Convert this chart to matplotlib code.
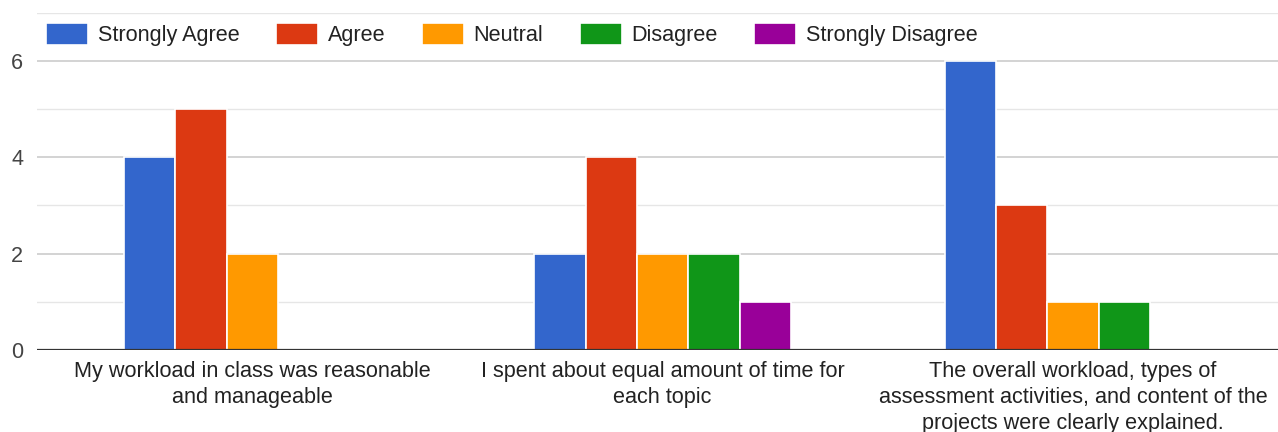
import numpy as np
import matplotlib
matplotlib.use("Agg")
import matplotlib.pyplot as plt
from matplotlib.ticker import MultipleLocator

questions = [
    "My workload in class was reasonable\nand manageable",
    "I spent about equal amount of time for\neach topic",
    "The overall workload, types of\nassessment activities, and content of the\nprojects were clearly explained.",
]
responses = ["Strongly Agree", "Agree", "Neutral", "Disagree", "Strongly Disagree"]
strongly_agree = [4, 2, 6]
agree = [5, 4, 3]
neutral = [2, 2, 1]
disagree = [0, 2, 1]
strongly_disagree = [0, 1, 0]
colors = ["#3366cc", "#dc3912", "#ff9900", "#109618", "#990099"]

plt.rcParams['font.family'] = ['Liberation Sans', 'DejaVu Sans']

fig = plt.figure(figsize=(12.78, 4.32), dpi=100)
ax = fig.add_axes([37 / 1278, 82 / 432, 1 - 37 / 1278, (350 - 12.8) / 432])

series = [strongly_agree, agree, neutral, disagree, strongly_disagree]
x = np.arange(len(questions))
w = 0.125
for i, (vals, c, name) in enumerate(zip(series, colors, responses)):
    ax.bar(x + (i - 2) * w, vals, width=w, color=c, edgecolor="white",
           linewidth=1.2, label=name, zorder=2)

ax.set_xlim(-0.525, 2.5)
ax.set_ylim(0, 7)
ax.yaxis.set_major_locator(MultipleLocator(2))
ax.yaxis.set_minor_locator(MultipleLocator(1))
ax.grid(axis="y", which="major", color="#cccccc", linewidth=1.2, zorder=0)
ax.grid(axis="y", which="minor", color="#e6e6e6", linewidth=1.0, zorder=0)
ax.axhline(0, color="#333333", linewidth=1.6, zorder=3)
for s in ax.spines.values():
    s.set_visible(False)

ax.set_xticks(x)
ax.set_xticklabels(questions, fontsize=15.6, color="#222222", linespacing=1.3)
ax.tick_params(axis="x", length=0, pad=8)
ax.tick_params(axis="y", which="both", length=0, labelsize=15.6,
               labelcolor="#444444", pad=10)

fig.legend(loc="center left", bbox_to_anchor=(46 / 1278, 1 - 34.5 / 432),
           ncol=5, frameon=False, fontsize=15.6, handlelength=1.94,
           handleheight=1.2, handletextpad=0.46, columnspacing=1.67,
           borderpad=0, borderaxespad=0, labelcolor="#222222")

fig.savefig("out.png", dpi=100)
